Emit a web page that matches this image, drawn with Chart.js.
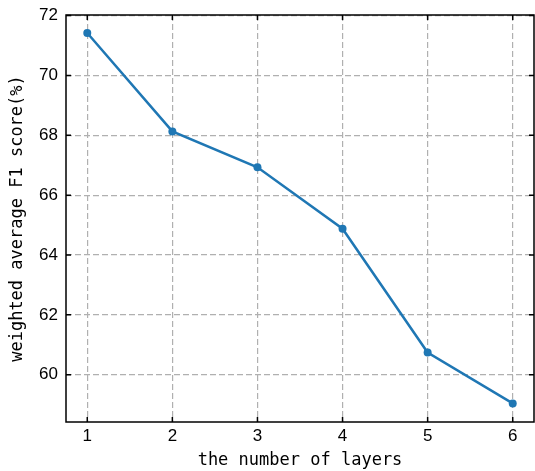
<!DOCTYPE html>
<html>
<head>
<meta charset="utf-8">
<script src="https://cdn.jsdelivr.net/npm/chart.js@4/dist/chart.umd.min.js"></script>
<style>
  html, body { margin: 0; padding: 0; background: #fff; overflow: hidden; }
  canvas { display: block; }
</style>
</head>
<body>
<canvas id="chart" width="535" height="471"></canvas>
<script>
// values
const layers = [1, 2, 3, 4, 5, 6];
const f1Scores = [71.42, 68.13, 66.93, 64.88, 60.74, 59.04];
const xTicks = [1, 2, 3, 4, 5, 6];
const yTicks = [60, 62, 64, 66, 68, 70, 72];

const tickFont = { family: "'Liberation Sans', Arial, sans-serif", size: 17 };
const titleFont = { family: "'DejaVu Sans Mono', monospace", size: 17 };

// matplotlib style frame: black box with inward ticks on all four sides
const frame = {
  id: "frame",
  afterDraw(chart) {
    const { ctx, chartArea: a, scales } = chart;
    const len = 5;
    ctx.save();
    ctx.strokeStyle = "#000";
    ctx.lineWidth = 1.5;
    scales.x.ticks.forEach((t) => {
      const px = scales.x.getPixelForValue(t.value);
      ctx.beginPath();
      ctx.moveTo(px, a.bottom); ctx.lineTo(px, a.bottom - len);
      ctx.moveTo(px, a.top); ctx.lineTo(px, a.top + len);
      ctx.stroke();
    });
    scales.y.ticks.forEach((t) => {
      const py = scales.y.getPixelForValue(t.value);
      ctx.beginPath();
      ctx.moveTo(a.left, py); ctx.lineTo(a.left + len, py);
      ctx.moveTo(a.right, py); ctx.lineTo(a.right - len, py);
      ctx.stroke();
    });
    ctx.strokeRect(a.left, a.top, a.right - a.left, a.bottom - a.top);
    ctx.restore();
  },
};

new Chart(document.getElementById("chart"), {
  type: "line",
  data: {
    datasets: [
      {
        data: layers.map((x, i) => ({ x: x, y: f1Scores[i] })),
        borderColor: "#1f77b4",
        backgroundColor: "#1f77b4",
        borderWidth: 2.5,
        pointRadius: 4,
        pointBorderWidth: 0,
        tension: 0,
      },
    ],
  },
  options: {
    responsive: false,
    animation: false,
    layout: { autoPadding: false, padding: { top: 15, right: 1, left: 0, bottom: 0 } },
    plugins: { legend: { display: false }, tooltip: { enabled: false } },
    scales: {
      x: {
        type: "linear",
        min: 0.75,
        max: 6.25,
        afterBuildTicks: (s) => { s.ticks = xTicks.map((v) => ({ value: v })); },
        afterFit: (s) => { s.height = 49; s.paddingLeft = 0; s.paddingRight = 0; },
        grid: { color: "#b0b0b0", lineWidth: 1.2, drawTicks: false },
        border: { display: false, dash: [6, 3] },
        ticks: { font: tickFont, color: "#000", padding: 4, maxRotation: 0 },
        title: {
          display: true,
          text: "the number of layers",
          font: titleFont,
          color: "#000",
          padding: { top: 0, bottom: 0 },
        },
      },
      y: {
        min: 58.42,
        max: 72.02,
        afterBuildTicks: (s) => { s.ticks = yTicks.map((v) => ({ value: v })); },
        afterFit: (s) => { s.width = 66; s.paddingTop = 0; s.paddingBottom = 0; },
        grid: { color: "#b0b0b0", lineWidth: 1.2, drawTicks: false },
        border: { display: false, dash: [6, 3] },
        ticks: { font: tickFont, color: "#000", padding: 8 },
        title: {
          display: true,
          text: "weighted average F1 score(%)",
          font: titleFont,
          color: "#000",
          padding: { top: 7, bottom: 0 },
        },
      },
    },
  },
  plugins: [frame],
});
</script>
</body>
</html>
